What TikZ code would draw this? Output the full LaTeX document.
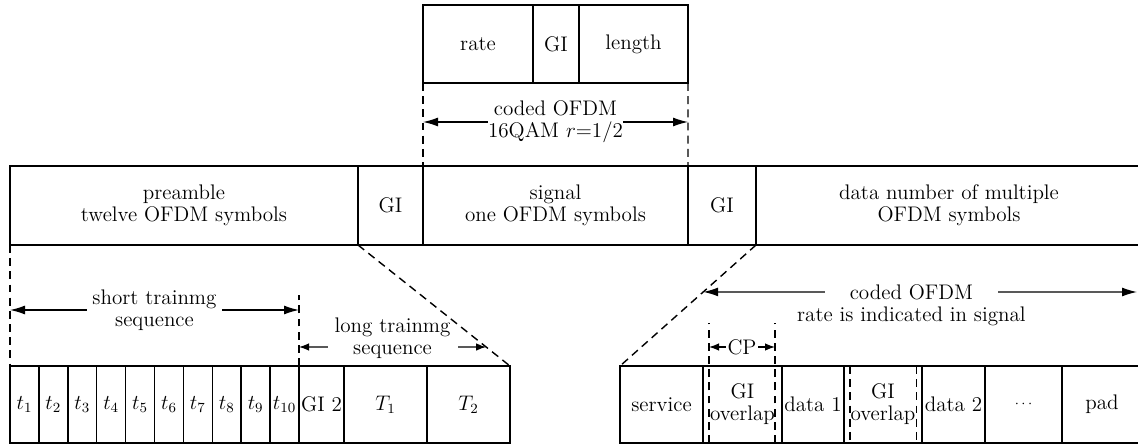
\documentclass[tikz,border=0pt]{standalone}
\usetikzlibrary{positioning,calc,arrows.meta}

\begin{document}
\begin{tikzpicture}[
    node distance=0cm,
    font=\fontsize{12}{12.6}\selectfont,
    cell/.style={draw, line width=0.9pt, minimum height=1.56cm, inner sep=0pt, outer sep=0pt, align=center},
    tcell/.style={cell, minimum width=0.578cm, minimum height=1.54cm},
    guide/.style={line width=0.8pt, dash pattern=on 4.5pt off 3pt},
    span/.style={line width=0.7pt, {Latex[length=3mm,width=1.8mm]}-{Latex[length=3mm,width=1.8mm]}},
    shortspan/.style={line width=0.7pt, {Latex[length=2mm,width=1.5mm]}-{Latex[length=2mm,width=1.5mm]}},
    gap/.style={fill=white, inner ysep=0pt, align=center}
]
    \useasboundingbox (0,0) rectangle (22.76,8.92);

    % frame
    \node [cell, minimum width=6.96cm, minimum height=1.58cm, anchor=north west] (pre) at (0.2,5.6) {preamble\\twelve OFDM symbols};
    \node [cell, minimum width=1.3cm, minimum height=1.58cm, right=of pre] (gi1) {GI};
    \node [cell, minimum width=5.3cm, minimum height=1.58cm, right=of gi1] (sig) {signal\\one OFDM symbols};
    \node [cell, minimum width=1.36cm, minimum height=1.58cm, right=of sig] (gi2) {GI};
    \node [cell, minimum width=7.72cm, minimum height=1.58cm, right=of gi2] (dat) {data number of multiple\\OFDM symbols};

    % signal field
    \node [cell, minimum width=2.2cm, above right=1.66cm and 0cm of sig.north west] (rate) {rate};
    \node [cell, minimum width=0.92cm, right=of rate] (gi3) {GI};
    \node [cell, minimum width=2.18cm, right=of gi3] (len) {length};

    % preamble
    \node [tcell, below right=2.42cm and 0cm of pre.south west] (t1) {$t_{1}$};
    \foreach \i [count=\j from 1] in {2,...,10}
        \node [tcell, right=of t\j] (t\i) {$t_{\i}$};
    \node [cell, minimum width=0.9cm, minimum height=1.54cm, right=of t10] (gi4) {GI 2};
    \node [cell, minimum width=1.66cm, minimum height=1.54cm, right=of gi4] (T1) {$T_{1}$};
    \node [cell, minimum width=1.66cm, minimum height=1.54cm, right=of T1] (T2) {$T_{2}$};

    % data
    \node [cell, minimum width=1.66cm, minimum height=1.54cm, anchor=north west] (srv) at (12.4,1.6) {service};
    \node [cell, minimum width=1.58cm, minimum height=1.54cm, right=of srv] (ov1) {GI\\overlap};
    \node [cell, minimum width=1.24cm, minimum height=1.54cm, right=of ov1] (d1) {data 1};
    \node [cell, minimum width=1.56cm, minimum height=1.54cm, right=of d1] (ov2) {GI\\overlap};
    \node [cell, minimum width=1.26cm, minimum height=1.54cm, right=of ov2] (d2) {data 2};
    \node [cell, minimum width=1.54cm, minimum height=1.54cm, right=of d2] (dots) {\footnotesize$\cdots$};
    \node [cell, minimum width=1.6cm, minimum height=1.54cm, right=of dots] (pad) {pad};

    \draw [span] ($(rate.south west)+(0,-0.78)$) -- node [gap, inner xsep=0pt] {coded OFDM\\16QAM $r$=1/2} ($(len.south east)+(0,-0.78)$);
    \draw [guide] (rate.south west) -- (sig.north west);
    \draw [guide] (len.south east) -- (sig.north east);

    \draw [span] ($(t1.north west)+(0,1.12)$) -- node [gap, inner xsep=3pt] {short trainmg\\sequence} ($(t10.north east)+(0,1.12)$);
    \draw [shortspan] ($(t10.north east)+(0,0.38)$) -- node [gap, inner xsep=4pt, yshift=0.17cm] {long trainmg\\sequence} ($(gi1.south west)!0.843!(T2.north east)$);
    \draw [guide] (pre.south west) -- (t1.north west);
    \draw [guide] (gi1.south west) -- (T2.north east);
    \draw [guide] (t10.north east) -- +(0,1.42);

    \draw [span] ($(gi2.south east)!0.388!(srv.north west)$) -- node [pos=0.48, gap, inner xsep=0.5cm] (cod) {coded OFDM} ($(pad.north east)+(-0.1,1.48)$);
    \node [anchor=base] (ind) at ($(cod.base)+(0,-0.44)$) {rate is indicated in signal};
    \draw [guide] (gi2.south east) -- (srv.north west);

    \coordinate (cpl) at ($(ov1.south west)+(0.12,0)$);
    \coordinate (cpr) at ($(ov1.south east)+(-0.14,0)$);
    \draw [shortspan] ($(cpl)+(0,1.92)$) -- node [gap, inner xsep=1pt] {CP} ($(cpr)+(0,1.92)$);
    \draw [guide] (cpl) -- +(0,2.4);
    \draw [guide] (cpr) -- +(0,2.4);
    \draw [guide] ($(ov2.north west)+(0.12,0)$) -- ($(ov2.south west)+(0.12,0)$);
    \draw [guide] ($(ov2.north east)+(-0.11,0)$) -- ($(ov2.south east)+(-0.11,0)$);
\end{tikzpicture}
\end{document}
